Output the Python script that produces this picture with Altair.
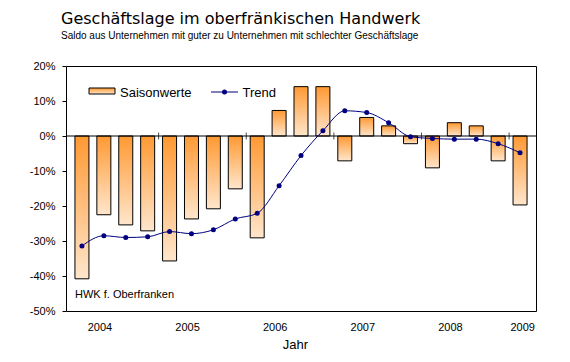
import altair as alt
import pandas as pd

quarters = ["2004 Q1", "2004 Q2", "2004 Q3", "2004 Q4",
            "2005 Q1", "2005 Q2", "2005 Q3", "2005 Q4",
            "2006 Q1", "2006 Q2", "2006 Q3", "2006 Q4",
            "2007 Q1", "2007 Q2", "2007 Q3", "2007 Q4",
            "2008 Q1", "2008 Q2", "2008 Q3", "2008 Q4",
            "2009 Q1"]
saisonwerte = [-40.8, -22.5, -25.4, -27.1, -35.7, -23.7, -20.8, -15.1, -29.1, 7.3, 14.1,
               14.1, -7.1, 5.3, 2.9, -2.2, -9.1, 3.8, 2.9, -7.1, -19.7]
trend = [-31.4, -28.5, -29.0, -28.8, -27.3, -27.9, -26.8, -23.7, -22.1, -14.2, -5.6,
         1.5, 7.2, 6.7, 3.8, -0.2, -0.7, -0.9, -0.9, -2.2, -4.8]
year_boundaries = [4, 8, 12, 16, 20]
legend_labels = ["Saisonwerte", "Trend"]
source_note = ["HWK f. Oberfranken"]

FONT = "Liberation Sans"
ORANGE = "#FF9933"
LIGHT = "#FFE6CC"
NAVY = "#000080"

df = pd.DataFrame({"quarter": quarters, "saison": saisonwerte, "trend": trend,
                   "idx": list(range(len(quarters)))})

grad = alt.Gradient(gradient="linear",
                    stops=[alt.GradientStop(color=ORANGE, offset=0),
                           alt.GradientStop(color=LIGHT, offset=1)],
                    x1=0, x2=0, y1=0, y2=1)

xscale = alt.Scale(domain=[0, 21], nice=False, zero=False)
yscale = alt.Scale(domain=[-50, 20], nice=False)

xaxis = alt.Axis(values=[1.3, 5.3, 9.3, 13.3, 17.3, 20.6],
                 labelExpr="'' + (2004 + floor(datum.value / 4))",
                 ticks=False, domain=False, grid=False, labelPadding=10,
                 labelOverlap=False, labelFlush=False,
                 labelFontSize=11, labelColor="black", labelFont=FONT,
                 title="Jahr", titleFont=FONT, titleFontSize=13, titleFontWeight="normal",
                 titleColor="black", titleX=229, titleY=37, titleBaseline="alphabetic",
                 titleAlign="center")
yaxis = alt.Axis(values=[-50, -40, -30, -20, -10, 0, 10, 20], labelExpr="datum.value + '%'",
                 domain=False, grid=False, tickSize=4, tickColor="black", tickWidth=1,
                 labelOverlap=False, labelFlush=False, labelBound=False,
                 labelPadding=7, labelFontSize=11, labelColor="black", labelFont=FONT,
                 title=None)

base = alt.Chart(df).transform_calculate(pos="datum.idx + 0.5")

bars = base.mark_bar(fill=grad, stroke="black", strokeWidth=1, size=14, orient="vertical").encode(
    x=alt.X("pos:Q", scale=xscale, axis=xaxis),
    y=alt.Y("saison:Q", scale=yscale, axis=yaxis),
    y2=alt.Y2(datum=0),
)

zero_df = pd.DataFrame({"b": year_boundaries})
zero_rule = alt.Chart(pd.DataFrame({"z": [0]})).mark_rule(color="black", strokeWidth=1).encode(
    y=alt.Y("z:Q", scale=yscale, axis=yaxis))
zero_ticks = alt.Chart(zero_df.assign(z=0)).mark_tick(orient="vertical", size=7, thickness=1,
                                                     color="black").encode(
    x=alt.X("b:Q", scale=xscale, axis=xaxis), y=alt.Y("z:Q", scale=yscale, axis=yaxis))

line = base.mark_line(color=NAVY, strokeWidth=1, interpolate="monotone").encode(
    x=alt.X("pos:Q", scale=xscale, axis=xaxis), y=alt.Y("trend:Q", scale=yscale, axis=yaxis))
points = base.mark_point(filled=True, color=NAVY, size=25, opacity=1, shape="circle").encode(
    x=alt.X("pos:Q", scale=xscale, axis=xaxis), y=alt.Y("trend:Q", scale=yscale, axis=yaxis))

# manual legend
leg_df1 = pd.DataFrame({"label": [legend_labels[0]]})
leg_df2 = pd.DataFrame({"label": [legend_labels[1]]})
leg_swatch = alt.Chart(leg_df1).mark_rect(fill=grad, stroke="black", strokeWidth=1).encode(
    x=alt.value(23), x2=alt.value(49), y=alt.value(22), y2=alt.value(28))
leg_text1 = alt.Chart(leg_df1).mark_text(align="left", baseline="alphabetic", font=FONT,
                                         fontSize=13, color="black").encode(
    x=alt.value(54), y=alt.value(30.5), text="label:N")
leg_line = alt.Chart(leg_df2).mark_rule(color=NAVY, strokeWidth=1).encode(
    x=alt.value(145), x2=alt.value(172), y=alt.value(26))
leg_point = alt.Chart(leg_df2).mark_point(filled=True, color=NAVY, size=25, opacity=1).encode(
    x=alt.value(158.5), y=alt.value(26))
leg_text2 = alt.Chart(leg_df2).mark_text(align="left", baseline="alphabetic", font=FONT,
                                         fontSize=13, color="black").encode(
    x=alt.value(176.5), y=alt.value(30.5), text="label:N")

note = alt.Chart(pd.DataFrame({"t": source_note})).mark_text(
    align="left", baseline="alphabetic", font=FONT, fontSize=11, color="black").encode(
    x=alt.value(9), y=alt.value(232), text="t:N")

chart = alt.layer(
    bars, zero_rule, zero_ticks, line, points,
    leg_swatch, leg_text1, leg_line, leg_point, leg_text2, note
).properties(
    width=470, height=245,
    autosize=alt.AutoSizeParams(type="none"),
    padding={"left": 58, "top": 58, "right": 26, "bottom": 43},
    title=alt.TitleParams(
        text="Geschäftslage im oberfränkischen Handwerk",
        subtitle="Saldo aus Unternehmen mit guter zu Unternehmen mit schlechter Geschäftslage",
        anchor="start", frame="group", dx=-5, offset=19,
        font="DejaVu Sans", fontSize=16, fontWeight="normal", color="black",
        subtitleFont=FONT, subtitleFontSize=10, subtitleColor="black", subtitlePadding=4,
    ),
).configure(background="white").configure_view(
    stroke="black", strokeWidth=1
).configure_axis(labelOverlap=False)

chart.save("out.html", embed_options={"renderer": "svg", "actions": False})
